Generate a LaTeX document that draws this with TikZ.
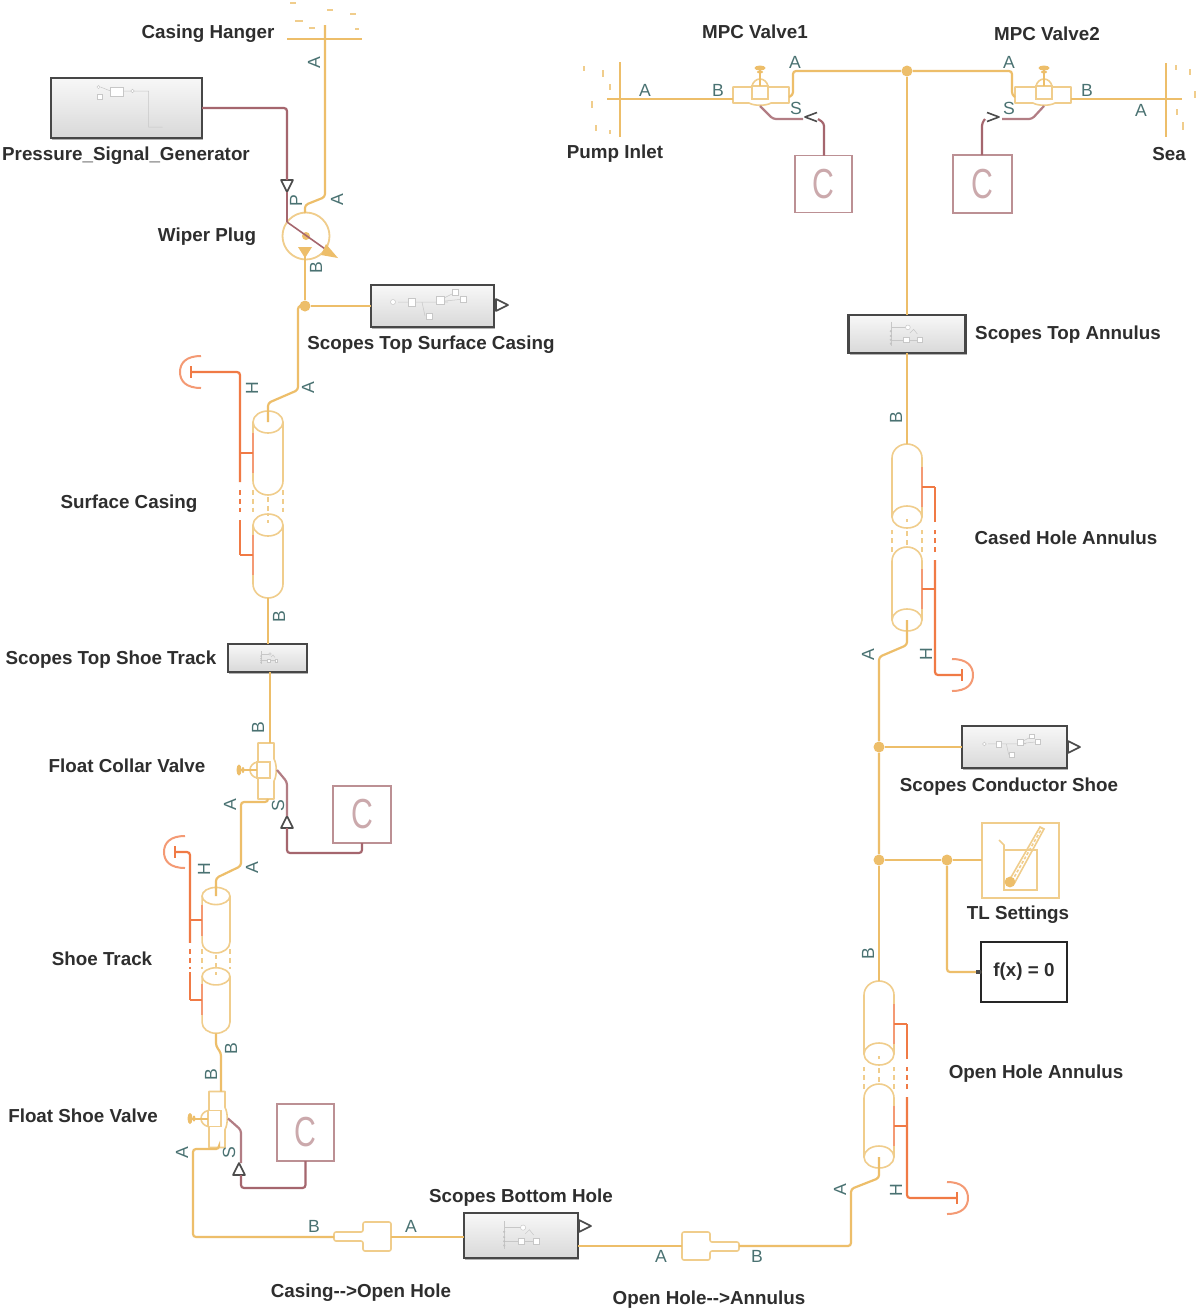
\documentclass[tikz,border=0pt]{standalone}
\usepackage{fontspec}
\setmainfont{Liberation Sans}
\usetikzlibrary{shadows}
\definecolor{tlc}{HTML}{EDBE6A}
\definecolor{tll}{HTML}{F0CD8C}
\definecolor{sigc}{HTML}{A5666E}
\definecolor{sigl}{HTML}{BC9094}
\definecolor{cletter}{HTML}{CBA9AC}
\definecolor{heatc}{HTML}{F07A45}
\definecolor{heatl}{HTML}{F49A74}
\definecolor{portc}{HTML}{4A7272}
\definecolor{labc}{HTML}{2E2E2E}
\tikzset{
 tlw/.style={draw=tlc,line width=1.1pt,rounded corners=1.5pt},
 tlo/.style={draw=tll,line width=.8pt},
 sigw/.style={draw=sigc,line width=1.1pt,rounded corners=1.5pt},
 heatw/.style={draw=heatc,line width=1.1pt,rounded corners=1.5pt},
 heato/.style={draw=heatl,line width=1pt},
 dotn/.style={circle,fill=tlc,inner sep=0pt,minimum size=5.5pt},
 lab/.style={font=\bfseries\fontsize{9.4}{11}\selectfont,text=labc,inner sep=0pt,yshift=-1pt},
 portlab/.style={font=\fontsize{8.8}{10}\selectfont,text=portc,inner sep=0pt},
 wh/.style 2 args={minimum width=#1*0.5pt,minimum height=#2*0.5pt,inner sep=0pt,outer sep=0pt},
 scopeblk/.style={rectangle,draw=black!72,line width=1.3pt,top color=black!3,bottom color=black!15,
   drop shadow={shadow xshift=.7pt,shadow yshift=-.8pt,opacity=.3,fill=black}},
 cblk/.style={rectangle,draw=sigl,line width=.9pt,fill=white,text=cletter,font=\fontsize{21}{22}\selectfont},
 mini/.style={draw=black!22,line width=.25pt,fill=white},
 miniline/.style={draw=black!22,line width=.25pt},
}
% port label
\newcommand\pl[5]{\node[portlab,rotate=#4] (#1) at (#2,#3) {#5};}
% triangle port
\newcommand\porttri[4]{\draw[draw=black!70,line width=.8pt,fill=white,line join=round,shift={(#2,#3)},rotate=#4] (6,0) coordinate (#1) -- (-6,-6) -- (-6,6) -- cycle;}
\newcommand\portchev[4]{\draw[draw=black!70,line width=.8pt,line join=round,shift={(#2,#3)},rotate=#4] (-6,-4.5) -- (6,0) coordinate (#1) -- (-6,4.5);}
% thermal pipe: name, x, y, rotation, xscale, yscale
\newcommand\tlpipe[6]{
 \begin{scope}[shift={(#2,#3)},rotate=#4,xscale=#5,yscale=#6]
  \draw[tlo] (0,0) ellipse [x radius=15,y radius=11];
  \draw[tlo] (-15,0) -- (-15,59) .. controls (-15,67) and (-8,73) .. (0,73) .. controls (8,73) and (15,67) .. (15,59) -- (15,0);
  \draw[tlo,dash pattern=on 2.4pt off 2pt] (-15,68) -- (-15,93) (0,75) -- (0,93) (15,68) -- (15,93);
  \draw[tlo] (0,98) -- (0,101);
  \draw[tlo] (0,103) ellipse [x radius=15,y radius=11];
  \draw[tlo] (-15,103) -- (-15,162) .. controls (-15,170) and (-8,176) .. (0,176) .. controls (8,176) and (15,170) .. (15,162) -- (15,103);
  \draw[heato] (-15,11) -- (-15,51) (-15,113) -- (-15,153);
  \draw[heatw,rounded corners=0pt] (-15,31) -- (-28,31) (-15,133) -- (-28,133);
  \draw[heatw,rounded corners=0pt] (-28,98) -- (-28,133);
  \draw[heatw,line width=.8pt,rounded corners=0pt,dash pattern=on 2.4pt off 2pt] (-28,68) -- (-28,93);
  \coordinate (#1-top) at (0,0);
  \coordinate (#1-bot) at (0,176);
  \coordinate (#1-h) at (-28,60);
 \end{scope}}
% heat cap: name, x, y, direction
\newcommand\heatcap[4]{
 \coordinate (#1) at (#2,#3);
 \begin{scope}[shift={(#2,#3)},xscale=#4]
  \draw[draw=heatc,line width=1.1pt] (0,-6) -- (0,6);
  \draw[heato] (-10,-16) .. controls (5,-16) and (11,-9) .. (11,0) .. controls (11,9) and (5,16) .. (-10,16);
 \end{scope}}
% valve: name, cm matrix entries a b c d, x, y
\newcommand\tlvalve[7]{
 \begin{scope}[cm={#2,#3,#4,#5,(#6,#7)}]
  \draw[tlo,line join=round] (-8,-5) -- (-27,-5) -- (-27,11) -- (-11,11) .. controls (-6,14) and (6,14) .. (11,11) -- (29,11) -- (29,-5) -- (8,-5);
  \draw[tlo] (-8,-6) rectangle (8,7);
  \draw[tlo] (-8,-6) .. controls (-7,-10) and (-4,-13) .. (0,-13) .. controls (4,-13) and (7,-10) .. (8,-6);
  \draw[draw=tlc,line width=1pt] (0,-6) -- (0,-22);
  \fill[tlc] (0,-24) ellipse [x radius=5.5,y radius=2.5];
  \fill[tlc] (0,-20) ellipse [x radius=3,y radius=1.5];
  \coordinate (#1-b) at (-27,7);
  \coordinate (#1-a) at (29,5);
  \coordinate (#1-s) at (0,14);
 \end{scope}}
% little block contents
\newcommand\miniA[3]{
 \begin{scope}[shift={(#1,#2)},scale=#3]
  \draw[miniline] (-34,-4) -- (16,-4) (-10,-4) -- (-7,10) (4,-4) -- (24,-14) (4,-4) -- (32,-7);
  \draw[mini] (-39,-4) circle (2.5);
  \draw[mini] (-24,-8) rectangle (-17,0);
  \draw[mini] (4,-10) rectangle (12,-2);
  \draw[mini] (20,-17) rectangle (26,-11);
  \draw[mini] (28,-10) rectangle (34,-4);
  \draw[mini] (-6,7) rectangle (0,13);
 \end{scope}}
\newcommand\miniB[3]{
 \begin{scope}[shift={(#1,#2)},scale=#3]
  \draw[miniline] (-16,-14) -- (-16,12) (-16,-8) -- (2,-8) (-16,5) -- (14,5);
  \draw[mini] (2,-8) circle (2.5);
  \draw[mini,fill=black!40] (-16,-4) circle (.8) (-16,1) circle (.8) (-16,5) circle (.8) (-16,9) circle (.8);
  \draw[mini] (-3,2) rectangle (3,8);
  \draw[mini] (12,2) rectangle (17,8);
  \draw[miniline] (4,-2) -- (8,-6) -- (12,-1);
 \end{scope}}

\begin{document}
\begin{tikzpicture}[x=0.5pt,y=-0.5pt]
\useasboundingbox (0,0) rectangle (1203,1313);
\fill[white] (0,0) rectangle (1203,1313);

%% ---------- blocks ----------
\node[scopeblk,wh={151}{60}] (psg) at (126.5,108) {};
\node[scopeblk,wh={123}{42}] (stsc) at (432.5,306) {};
\node[scopeblk,wh={79}{28}] (stst) at (267.5,658) {};
\node[scopeblk,wh={114}{45}] (sbh) at (521,1235.5) {};
\node[scopeblk,wh={117}{38}] (sta) at (907,334) {};
\node[scopeblk,wh={105}{42}] (scs) at (1014.5,747) {};
\node[rectangle,draw=black!85,line width=.9pt,fill=white,wh={86}{60},font=\bfseries\fontsize{9.4}{11}\selectfont,text=labc,
  drop shadow={shadow xshift=.6pt,shadow yshift=-.6pt,opacity=.25,fill=black}] (fx) at (1024,972) {\raisebox{-1pt}{f(x) = 0}};
\node[rectangle,draw=tll,line width=.9pt,fill=white,wh={77}{75}] (tls) at (1020.5,860.5) {};
\node[cblk,wh={57}{57}] (c1) at (823.5,184) {\scalebox{.72}[1]{C}};
\node[cblk,wh={59}{58}] (c2) at (982.5,184) {\scalebox{.72}[1]{C}};
\node[cblk,wh={58}{57}] (c3) at (362,814.5) {\scalebox{.72}[1]{C}};
\node[cblk,wh={57}{57}] (c4) at (305.5,1132.5) {\scalebox{.72}[1]{C}};

%% block contents
\begin{scope}[shift={(126.5,108)}]
 \draw[miniline] (-26,-21) -- (-16,-17) (-3,-17) -- (22,-17) -- (22,19) -- (36,19);
 \draw[mini] (-28,-21) circle (1.6);
 \draw[mini] (-29.5,-14) rectangle (-24.5,-9);
 \draw[mini] (-16,-21) rectangle (-3,-12);
 \draw[mini] (6,-17) circle (1.8);
\end{scope}
\miniA{432}{306}{1}
\miniA{1014}{747}{.76}
\miniB{906}{335}{.95}
\miniB{521}{1236}{1.05}
\miniB{269}{658}{.5}

%% TL settings beaker
\draw[tlo] (999,840) -- (1004,845) -- (1004,890) -- (1037,890) -- (1037,850) -- (1004,850);
\draw[tlo] (1010,879) -- (1040,827) -- (1044,829) -- (1014,884);
\draw[tlo,dash pattern=on 1.5pt off 1pt] (1012,881) -- (1042,828);
\node[circle,fill=tlc,inner sep=0pt,minimum size=5.4pt] (bulb) at (1010,882) {};

%% ---------- reservoirs ----------
\coordinate (hang) at (325,39);
\draw[tlo,draw=tlc,line width=1pt] (287,39) -- (362,39);
\draw[tll,line width=1pt] (290,3) -- (296,3) (327,10) -- (333,10) (350,14) -- (356,14) (295,21) -- (303,21) (309,28) -- (315,28) (355,29) -- (359,29);
\coordinate (inlet) at (620,99);
\draw[tlo,draw=tlc,line width=1pt] (620,62) -- (620,137);
\draw[tll,line width=1pt] (584,66) -- (584,71) (603,70) -- (603,77) (610,84) -- (610,90) (592,101) -- (592,108) (596,125) -- (596,131) (610,130) -- (610,134);
\coordinate (sea) at (1166,99);
\draw[tlo,draw=tlc,line width=1pt] (1166,63) -- (1166,137);
\draw[tll,line width=1pt] (1176,65) -- (1176,70) (1190,69) -- (1190,75) (1195,91) -- (1195,98) (1177,109) -- (1177,115) (1183,122) -- (1183,130);

%% ---------- wiper plug ----------
\node[circle,draw=tll,line width=.9pt,fill=white,minimum size=23.5pt,inner sep=0pt] (pump) at (306,236) {};
\node[circle,fill=tlc,inner sep=0pt,minimum size=4pt] (pumpdot) at (306,236) {};
\coordinate (pumpP) at (287,222);
\coordinate (pumpT) at (338,258);
\coordinate (pumpA) at (305,213);
\coordinate (pumpB) at (305,254);
\draw[draw=sigc,line width=.8pt] (pumpP) -- (328,251);
\fill[tlc] (pumpT) -- (326,244) -- (321,255) -- cycle;
\fill[tlc] (298,247) -- (312,247) -- (305,258) -- cycle;

%% ---------- valves ----------
\tlvalve{mv1}{1}{0}{0}{1}{760}{92}
\tlvalve{mv2}{-1}{0}{0}{1}{1044}{92}
\tlvalve{fc}{0}{-1}{-1}{0}{263}{770}
\tlvalve{fs}{0}{-1}{-1}{0}{214}{1118.5}

%% ---------- pipes ----------
\tlpipe{sc}{268}{422}{0}{1}{1}
\tlpipe{st}{216}{896}{0}{.93}{.78}
\tlpipe{ch}{907}{620}{180}{1}{1}
\tlpipe{oh}{879}{1157}{180}{1}{1}

%% ---------- heat ends ----------
\heatcap{capsc}{191}{372}{-1}
\heatcap{capst}{175}{852}{-1}
\heatcap{capch}{962}{675}{1}
\heatcap{capoh}{957}{1198}{1}
\draw[heatw] (sc-h) |- (capsc);
\draw[heatw] (st-h) |- (capst);
\draw[heatw] (ch-h) |- (capch);
\draw[heatw] (oh-h) |- (capoh);

%% ---------- reducers ----------
\draw[tlo,line join=round,rounded corners=1pt] (363,1232) -- (334,1232) -- (334,1241) -- (363,1241) -- (363,1251) -- (391,1251) -- (391,1222) -- (363,1222) -- cycle;
\coordinate (rd1b) at (334,1237); \coordinate (rd1a) at (391,1237);
\draw[tlo,line join=round,rounded corners=1pt] (710,1242) -- (739,1242) -- (739,1251) -- (710,1251) -- (710,1260) -- (682,1260) -- (682,1232) -- (710,1232) -- cycle;
\coordinate (rd2a) at (682,1246); \coordinate (rd2b) at (739,1246);

%% ---------- junctions ----------
\node[dotn] (j1) at (305,306) {};
\node[dotn] (j2) at (907,71) {};
\node[dotn] (j3) at (879,747) {};
\node[dotn] (j4) at (879,860) {};
\node[dotn] (j5) at (947,860) {};

%% ---------- thermal liquid wires ----------
\draw[tlw] (325,25) -- (hang) -- (325,197) -- (pumpA |- 205,205) -- (pumpA);
\draw[tlw,line width=1.3pt] (pumpB) -- (j1);
\draw[tlw] (j1) -- (stsc.west |- j1);
\draw[tlw] (j1) -- (298,306) -- (298,390) -- (268,403) -- (sc-top);
\draw[tlw] (sc-bot) -- (268,644);
\draw[tlw] (270,672) -- (fc-b);
\coordinate (fcl) at (241,802);
\draw[tlw] (fc-a) |- (fcl) -- (241,866) -- (216,878) -- (st-top);
\draw[tlw] (st-bot) -- (216,1046) -- (221,1053) -- (fs-b);
\coordinate (fsl) at (193,1149);
\draw[tlw] (fs-a) |- (fsl) -- (193,1237) -- (rd1b);
\draw[tlw] (rd1a) -- (sbh.west |- rd1a);
\draw[tlw] (578,1246) -- (rd2a);
\draw[tlw] (rd2b) -- (851,1246) -- (851,1189) -- (879,1178) -- (oh-top);
\draw[tlw] (oh-bot) -- (j4);
\draw[tlw] (j4) -- (j3) -- (879,657) -- (907,645) -- (ch-top);
\draw[tlw] (j3) -- (scs.west |- j3);
\draw[tlw] (j4) -- (j5);
\draw[tlw] (j5) -- (tls.west |- j5);
\draw[tlw] (j5) |- (fx.west);
\fill[black!70] (976,970) rectangle (981,974);
\draw[tlw] (ch-bot) -- (sta.south);
\draw[tlw] (sta.north) -- (j2);
\draw[tlw] (mv1-a) -- (793,95) -- (793,71) -- (j2);
\draw[tlw] (j2) -- (1012,71) -- (1012,95) -- (mv2-a);
\draw[tlw] (607,99) -- (inlet) -- (mv1-b);
\draw[tlw] (mv2-b) -- (sea) -- (1182,99);

%% ---------- signal wires and ports ----------
\porttri{pt1}{287}{186}{-90}
\draw[sigw] (psg.east) -- (287,108) -- (287,180);
\draw[sigw] (287,192) -- (pumpP);
\portchev{pt2}{811}{117}{180}
\draw[sigw,draw=sigc!85] (mv1-s) -- (773,119) -- (803,119);
\draw[sigw] (818,119) -- (824,123) -- (c1.north -| 824,155);
\portchev{pt3}{993}{117}{0}
\draw[sigw,draw=sigc!85] (mv2-s) -- (1032,119) -- (1002,119);
\draw[sigw] (985,119) -- (982,123) -- (982,155);
\porttri{pt4}{287}{822}{90}
\draw[sigw,draw=sigc!85] (fc-s) -- (287,782) -- (287,816);
\draw[sigw] (287,828) -- (287,853) -- (362,853) -- (c3.south);
\porttri{pt5}{239}{1169}{90}
\draw[sigw,draw=sigc!85] (fs-s) -- (241,1130) -- (241,1163);
\draw[sigw] (241,1175) -- (241,1188) -- (305.5,1188) -- (c4.south);

%% ---------- output ports of the scope blocks ----------
\porttri{o1}{502}{305}{0}
\porttri{o2}{1074}{747}{0}
\porttri{o3}{585}{1226}{0}

%% ---------- block labels ----------
\node[lab] (l1) at (208,32) {Casing Hanger};
\node[lab] (l2) at (126,154) {Pressure\_Signal\_Generator};
\node[lab] (l3) at (207,235) {Wiper Plug};
\node[lab] (l4) at (431,343) {Scopes Top Surface Casing};
\node[lab] (l5) at (129,502) {Surface Casing};
\node[lab] (l6) at (111,658) {Scopes Top Shoe Track};
\node[lab] (l7) at (127,764) {Float Collar Valve};
\node[lab] (l8) at (102,957) {Shoe Track};
\node[lab] (l9) at (83,1114) {Float Shoe Valve};
\node[lab] (l10) at (361,1291) {Casing-{}->Open Hole};
\node[lab] (l11) at (521,1196) {Scopes Bottom Hole};
\node[lab] (l12) at (709,1298) {Open Hole-{}->Annulus};
\node[lab] (l13) at (1036,1072) {Open Hole Annulus};
\node[lab] (l14) at (1018,913) {TL Settings};
\node[lab] (l15) at (1009,785) {Scopes Conductor Shoe};
\node[lab] (l16) at (1066,536) {Cased Hole Annulus};
\node[lab] (l17) at (1068,333) {Scopes Top Annulus};
\node[lab] (l18) at (755,30) {MPC Valve1};
\node[lab] (l19) at (1047,32) {MPC Valve2};
\node[lab] (l20) at (615,152) {Pump Inlet};
\node[lab] (l21) at (1169,152) {Sea};

%% ---------- port labels ----------
\pl{p1}{314}{63}{90}{A}
\pl{p2}{337}{200}{90}{A}
\pl{p3}{296}{201}{90}{P}
\pl{p4}{316}{268}{90}{B}
\pl{p5}{252}{388}{90}{H}
\pl{p6}{308}{388}{90}{A}
\pl{p7}{279}{617}{90}{B}
\pl{p8}{258}{728}{90}{B}
\pl{p9}{230}{805}{90}{A}
\pl{p10}{278}{806}{90}{S}
\pl{p11}{252}{868}{90}{A}
\pl{p12}{204}{869}{90}{H}
\pl{p13}{231}{1049}{90}{B}
\pl{p14}{211}{1075}{90}{B}
\pl{p15}{182}{1153}{90}{A}
\pl{p16}{229}{1153}{90}{S}
\pl{p17}{314}{1226}{0}{B}
\pl{p18}{411}{1226}{0}{A}
\pl{p19}{661}{1256}{0}{A}
\pl{p20}{757}{1256}{0}{B}
\pl{p21}{840}{1190}{90}{A}
\pl{p22}{896}{1190}{90}{H}
\pl{p23}{868}{954}{90}{B}
\pl{p24}{868}{655}{90}{A}
\pl{p25}{926}{654}{90}{H}
\pl{p26}{896}{418}{90}{B}
\pl{p27}{645}{90}{0}{A}
\pl{p28}{718}{90}{0}{B}
\pl{p29}{795}{62}{0}{A}
\pl{p30}{796}{108}{0}{S}
\pl{p31}{1009}{62}{0}{A}
\pl{p32}{1009}{108}{0}{S}
\pl{p33}{1087}{90}{0}{B}
\pl{p34}{1141}{110}{0}{A}
\end{tikzpicture}
\end{document}
